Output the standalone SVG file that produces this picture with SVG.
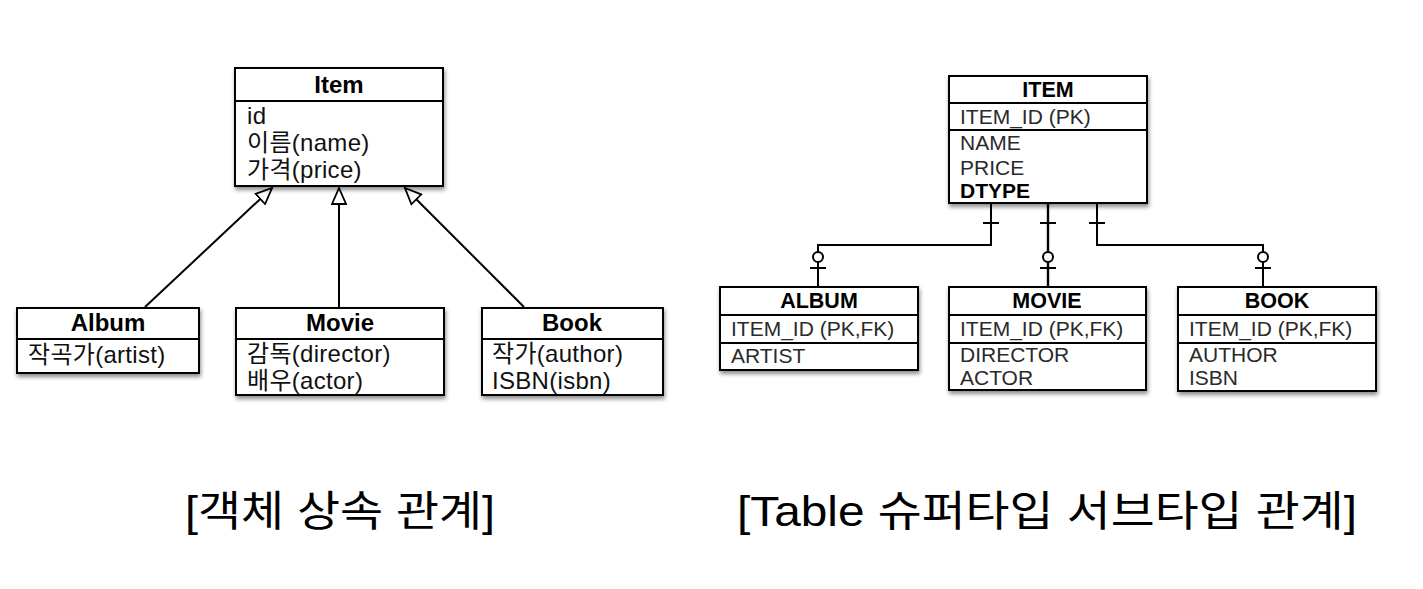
<svg xmlns="http://www.w3.org/2000/svg" width="1423" height="589" viewBox="0 0 1423 589">
<defs>
<filter id="sh" x="-10%" y="-10%" width="125%" height="135%">
<feDropShadow dx="1" dy="3" stdDeviation="2.2" flood-color="#000" flood-opacity="0.45"/>
</filter>
<marker id="tri" viewBox="-1 -1 19 16" refX="16" refY="7" markerWidth="19" markerHeight="16" markerUnits="userSpaceOnUse" orient="auto">
<path d="M0,0 L16,7 L0,14 Z" fill="#fff" stroke="#000" stroke-width="1.8" stroke-linejoin="miter"/>
</marker>
</defs>
<style>
.box{fill:#fff;stroke:#000;stroke-width:2}
.div{stroke:#000;stroke-width:2}
.h{font-family:"Liberation Sans","Noto Sans CJK KR",sans-serif;font-weight:bold;font-size:24px;fill:#000;text-anchor:middle}
.a{font-family:"Liberation Sans","Noto Sans CJK KR",sans-serif;font-size:24px;letter-spacing:0.3px;fill:#111}
.H{font-family:"Liberation Sans","Noto Sans CJK KR",sans-serif;font-weight:bold;font-size:21.5px;fill:#000;text-anchor:middle}
.A{font-family:"Liberation Sans","Noto Sans CJK KR",sans-serif;font-size:21px;fill:#2a2a2a}
.cap{font-family:"Liberation Sans","Noto Sans CJK KR",sans-serif;font-size:42px;fill:#000}
.ln{fill:none;stroke:#000;stroke-width:2}
.circ{fill:#fff;stroke:#000;stroke-width:2}
</style>
<rect width="1423" height="589" fill="#fff"/>

<g id="connectors">
<line class="ln" x1="145" y1="307" x2="272" y2="188" marker-end="url(#tri)"/>
<line class="ln" x1="339" y1="307" x2="339" y2="188" marker-end="url(#tri)"/>
<line class="ln" x1="524" y1="307" x2="405" y2="188" marker-end="url(#tri)"/>

<polyline class="ln" points="991,203 991,245 818,245 818,287"/>
<line class="ln" x1="983" y1="223" x2="999" y2="223"/>
<line class="ln" x1="810" y1="268" x2="826" y2="268"/>
<circle class="circ" cx="818" cy="257" r="5"/>

<line class="ln" x1="1048" y1="203" x2="1048" y2="287" style="stroke-width:2.4"/>
<line class="ln" x1="1040" y1="223" x2="1056" y2="223"/>
<line class="ln" x1="1040" y1="268" x2="1056" y2="268"/>
<circle class="circ" cx="1048" cy="257" r="5"/>

<polyline class="ln" points="1097,203 1097,245 1263,245 1263,287"/>
<line class="ln" x1="1089" y1="223" x2="1105" y2="223"/>
<line class="ln" x1="1255" y1="268" x2="1271" y2="268"/>
<circle class="circ" cx="1263" cy="257" r="5"/>
</g>

<g id="item">
<rect class="box" x="235" y="68" width="208" height="118" filter="url(#sh)"/>
<line class="div" x1="235" y1="101" x2="443" y2="101"/>
<text class="h" x="339" y="93">Item</text>
<text class="a" x="247" y="124">id</text>
<text class="a" x="247" y="151">이름(name)</text>
<text class="a" x="247" y="178">가격(price)</text>
</g>

<g id="album">
<rect class="box" x="17" y="308" width="182" height="65" filter="url(#sh)"/>
<line class="div" x1="17" y1="339" x2="199" y2="339"/>
<text class="h" x="108" y="331">Album</text>
<text class="a" x="28" y="363">작곡가(artist)</text>
</g>

<g id="movie">
<rect class="box" x="236" y="308" width="208" height="87" filter="url(#sh)"/>
<line class="div" x1="236" y1="339" x2="444" y2="339"/>
<text class="h" x="340" y="331">Movie</text>
<text class="a" x="247" y="362">감독(director)</text>
<text class="a" x="247" y="389">배우(actor)</text>
</g>

<g id="book">
<rect class="box" x="482" y="308" width="181" height="87" filter="url(#sh)"/>
<line class="div" x1="482" y1="339" x2="663" y2="339"/>
<text class="h" x="572" y="331">Book</text>
<text class="a" x="492" y="362">작가(author)</text>
<text class="a" x="492" y="389">ISBN(isbn)</text>
</g>

<g id="ITEM">
<rect class="box" x="949" y="76" width="198" height="127" filter="url(#sh)"/>
<line class="div" x1="949" y1="103" x2="1147" y2="103"/>
<line class="div" x1="949" y1="130" x2="1147" y2="130"/>
<text class="H" x="1048" y="97">ITEM</text>
<text class="A" x="960" y="124">ITEM_ID (PK)</text>
<text class="A" x="960" y="150">NAME</text>
<text class="A" x="960" y="175">PRICE</text>
<text class="A" x="960" y="198" style="font-weight:bold;fill:#000">DTYPE</text>
</g>

<g id="ALBUM">
<rect class="box" x="720" y="287" width="198" height="83" filter="url(#sh)"/>
<line class="div" x1="720" y1="315" x2="918" y2="315"/>
<line class="div" x1="720" y1="343" x2="918" y2="343"/>
<text class="H" x="819" y="308">ALBUM</text>
<text class="A" x="731" y="336">ITEM_ID (PK,FK)</text>
<text class="A" x="731" y="363">ARTIST</text>
</g>

<g id="MOVIE">
<rect class="box" x="949" y="287" width="197" height="103" filter="url(#sh)"/>
<line class="div" x1="949" y1="315" x2="1146" y2="315"/>
<line class="div" x1="949" y1="343" x2="1146" y2="343"/>
<text class="H" x="1047" y="308">MOVIE</text>
<text class="A" x="960" y="336">ITEM_ID (PK,FK)</text>
<text class="A" x="960" y="362">DIRECTOR</text>
<text class="A" x="960" y="385">ACTOR</text>
</g>

<g id="BOOK">
<rect class="box" x="1178" y="287" width="198" height="104" filter="url(#sh)"/>
<line class="div" x1="1178" y1="315" x2="1376" y2="315"/>
<line class="div" x1="1178" y1="343" x2="1376" y2="343"/>
<text class="H" x="1277" y="308">BOOK</text>
<text class="A" x="1189" y="336">ITEM_ID (PK,FK)</text>
<text class="A" x="1189" y="362">AUTHOR</text>
<text class="A" x="1189" y="385">ISBN</text>
</g>

<g id="captions">
<text class="cap" x="185" y="526" textLength="310" lengthAdjust="spacingAndGlyphs">[객체 상속 관계]</text>
<text class="cap" x="737" y="526" textLength="620" lengthAdjust="spacingAndGlyphs">[Table 슈퍼타입 서브타입 관계]</text>
</g>
</svg>
